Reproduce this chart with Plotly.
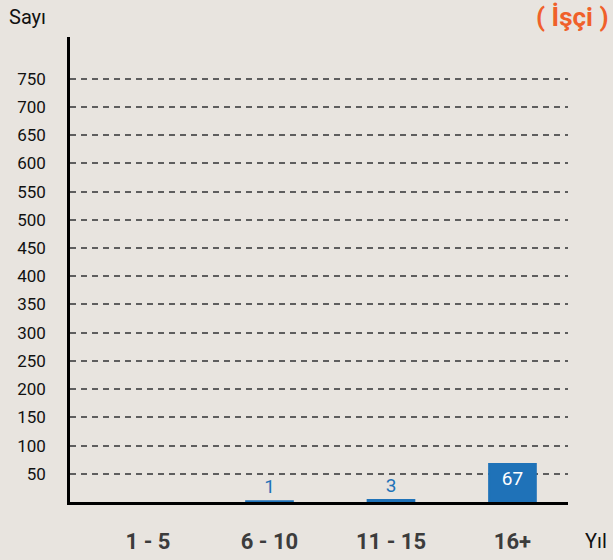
import plotly.graph_objects as go

# years of service groups and worker counts
groups = ["1 - 5", "6 - 10", "11 - 15", "16+"]
counts = [0, 1, 3, 67]
y_ticks = [50, 100, 150, 200, 250, 300, 350, 400, 450, 500, 550, 600, 650, 700, 750]

BG = "#e8e4df"
BLUE = "#1f72b8"
FONT = "Roboto, Noto Sans, sans-serif"

# plot area in page pixels
L, R, T, B = 70, 45, 37, 58
W, H = 613, 560
PW, PH = W - L - R, H - T - B

labels = [str(c) if c else "" for c in counts]
positions = ["inside" if c > 30 else "outside" for c in counts]
label_colors = ["white" if c > 30 else BLUE for c in counts]
edge = [2.5 if c else 0 for c in counts]


def px_x(x):
    return (x - L) / PW


def px_y(y):
    return (H - B - y) / PH


fig = go.Figure()
fig.add_trace(go.Bar(
    x=list(range(len(groups))),
    y=counts,
    width=0.38,
    marker=dict(color=BLUE, line=dict(color=BLUE, width=edge)),
    text=labels,
    textposition=positions,
    textfont=dict(color=label_colors, size=19, family=FONT),
    insidetextanchor="end",
    cliponaxis=False,
))

fig.update_layout(
    width=W, height=H,
    paper_bgcolor=BG, plot_bgcolor=BG,
    margin=dict(l=L, r=R, t=T, b=B, autoexpand=False),
    showlegend=False,
    font=dict(family=FONT, color="#111"),
    xaxis=dict(
        range=[-0.642, 3.457],
        tickvals=list(range(len(groups))),
        ticktext=groups,
        tickfont=dict(size=22, color="#3c3c3c", family=FONT, weight="bold"),
        ticks="", ticklabelstandoff=18, automargin=False,
        showgrid=False, zeroline=False,
        showline=True, linecolor="black", linewidth=2.5,
    ),
    yaxis=dict(
        range=[0, 824],
        tickvals=y_ticks,
        tickfont=dict(size=17, color="#111", family=FONT),
        ticks="", ticklabelstandoff=18, automargin=False,
        showgrid=True, gridcolor="#5e5e5e", gridwidth=1.5, griddash="6px,5px",
        zeroline=False,
        showline=True, linecolor="black", linewidth=2.5,
    ),
    annotations=[
        dict(text="Sayı", x=px_x(7), y=px_y(3), xref="paper", yref="paper",
             showarrow=False, xanchor="left", yanchor="top",
             font=dict(size=20, color="#111")),
        dict(text="( İşçi )", x=px_x(611), y=px_y(0), xref="paper", yref="paper",
             showarrow=False, xanchor="right", yanchor="top",
             font=dict(size=26, color="#f0602a", weight="bold")),
        dict(text="Yıl", x=px_x(609), y=px_y(541), xref="paper", yref="paper",
             showarrow=False, xanchor="right", yanchor="middle",
             font=dict(size=20, color="#111")),
    ],
)

fig.write_html("out.html", config={"displayModeBar": False},
               post_script="document.body.style.margin='0';")
